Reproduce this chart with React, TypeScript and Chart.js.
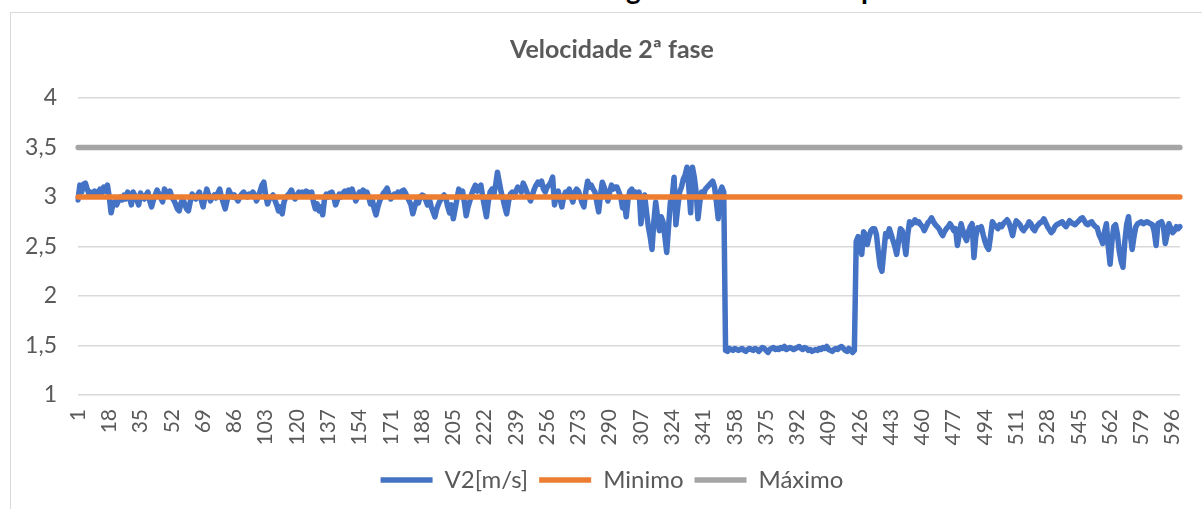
import React, { useEffect, useRef } from "react";
import { Chart, registerables } from "chart.js";

Chart.register(...registerables);

const FONT = "Lato, 'Noto Sans', sans-serif";
const TEXT_COLOR = "#595959";

const chartTitle = "Velocidade 2ª fase";
const outerTitle = "Monitoramento da frenagem durante o tempo";

const seriesNames = ["V2[m/s]", "Minimo", "Máximo"];
const seriesColors = ["#4472C4", "#ED7D31", "#A5A5A5"];

const MINIMO = 3;
const MAXIMO = 3.5;

const yTicks = [1, 1.5, 2, 2.5, 3, 3.5, 4];
const xTickLabels = [
  "1", "18", "35", "52", "69", "86", "103", "120", "137", "154", "171", "188",
  "205", "222", "239", "256", "273", "290", "307", "324", "341", "358", "375",
  "392", "409", "426", "443", "460", "477", "494", "511", "528", "545", "562",
  "579", "596",
];

const v2 = [
  2.97, 3.12, 3.05, 3.13, 3.14, 3.08, 3.03, 3.05, 3.04, 3.06,
  3.02, 3.05, 3.08, 3.04, 3.10, 3.06, 3.12, 3.00, 2.84, 2.93,
  2.95, 2.92, 2.96, 3.00, 2.97, 3.02, 2.98, 3.05, 3.00, 2.92,
  3.05, 3.01, 2.97, 2.92, 3.04, 3.00, 2.98, 3.02, 3.05, 2.96,
  2.90, 2.97, 3.02, 3.07, 3.03, 2.99, 2.95, 3.08, 3.05, 3.03,
  3.06, 3.00, 2.97, 2.93, 2.88, 2.86, 2.94, 2.98, 2.93, 2.88,
  2.86, 2.95, 3.03, 3.00, 2.98, 3.02, 3.05, 2.97, 2.90, 3.00,
  3.08, 3.02, 2.96, 3.00, 3.02, 2.99, 3.04, 3.08, 3.00, 2.94,
  2.88, 2.96, 3.07, 3.03, 3.00, 3.02, 2.99, 2.96, 3.00, 3.03,
  3.05, 3.02, 3.00, 3.03, 3.01, 3.05, 3.02, 2.96, 3.00, 3.06,
  3.12, 3.15, 3.02, 2.93, 2.98, 3.00, 3.02, 2.97, 2.92, 2.86,
  2.90, 2.83, 2.95, 3.00, 3.02, 3.04, 3.07, 3.02, 2.98, 3.01,
  3.05, 3.03, 3.05, 3.04, 3.06, 3.05, 3.03, 3.05, 2.95, 2.88,
  2.93, 2.86, 2.90, 2.82, 2.98, 3.03, 3.00, 3.04, 3.05, 3.00,
  2.92, 2.97, 3.03, 3.00, 3.04, 3.06, 3.03, 3.07, 3.05, 3.08,
  3.02, 2.96, 3.00, 3.05, 3.04, 3.07, 3.02, 3.05, 3.00, 2.93,
  2.97, 2.88, 2.82, 2.90, 2.96, 3.00, 3.04, 3.06, 3.09, 3.03,
  2.98, 3.00, 3.03, 3.02, 3.05, 3.03, 3.06, 3.07, 3.04, 3.00,
  2.96, 2.92, 2.83, 2.90, 2.96, 2.94, 3.00, 3.02, 3.01, 2.97,
  2.92, 2.98, 2.90, 2.85, 2.80, 2.88, 2.93, 2.97, 3.00, 3.02,
  2.98, 2.90, 2.84, 2.92, 2.78, 2.88, 2.98, 3.08, 3.05, 3.06,
  2.95, 2.81, 2.90, 2.96, 3.03, 3.08, 3.12, 3.06, 3.10, 3.12,
  3.00, 2.90, 2.80, 2.95, 3.05, 3.08, 3.02, 3.12, 3.25, 3.15,
  3.05, 2.98, 2.90, 2.83, 2.95, 3.03, 3.05, 3.00, 3.06, 3.10,
  3.08, 3.05, 3.14, 3.10, 3.05, 3.00, 2.96, 3.02, 3.08, 3.12,
  3.15, 3.13, 3.16, 3.08, 3.05, 3.10, 3.12, 3.15, 3.20, 2.92,
  3.02, 3.06, 2.98, 2.90, 3.00, 3.05, 3.04, 3.08, 3.00, 2.95,
  3.05, 3.08, 3.06, 3.00, 2.94, 2.90, 3.05, 3.16, 3.10, 3.12,
  3.08, 3.05, 2.95, 2.85, 3.02, 3.15, 3.10, 3.04, 2.96, 3.05,
  3.12, 3.08, 3.10, 3.10, 3.05, 3.00, 2.89, 2.95, 2.80, 2.98,
  3.06, 3.08, 3.03, 3.05, 3.00, 3.05, 2.73, 2.95, 3.02, 2.85,
  2.70, 2.60, 2.47, 2.75, 2.95, 2.80, 2.66, 2.80, 2.75, 2.60,
  2.44, 2.70, 2.95, 3.00, 3.20, 2.72, 2.90, 3.05, 3.10, 3.18,
  3.22, 3.30, 3.10, 2.84, 3.30, 3.20, 3.05, 2.78, 2.95, 3.05,
  3.02, 3.08, 3.10, 3.12, 3.14, 3.16, 3.10, 2.95, 2.78, 3.05,
  3.10, 3.05, 1.45, 1.44, 1.47, 1.46, 1.45, 1.47, 1.46, 1.45,
  1.46, 1.47, 1.45, 1.44, 1.46, 1.47, 1.46, 1.45, 1.47, 1.46,
  1.44, 1.46, 1.48, 1.47, 1.45, 1.43, 1.46, 1.47, 1.48, 1.46,
  1.47, 1.46, 1.48, 1.47, 1.49, 1.46, 1.47, 1.48, 1.47, 1.46,
  1.47, 1.48, 1.49, 1.47, 1.46, 1.48, 1.47, 1.45, 1.46, 1.44,
  1.45, 1.46, 1.45, 1.47, 1.46, 1.48, 1.47, 1.49, 1.46, 1.45,
  1.44, 1.46, 1.47, 1.46, 1.48, 1.49, 1.47, 1.45, 1.44, 1.47,
  1.45, 1.43, 1.45, 2.55, 2.60, 2.50, 2.42, 2.65, 2.62, 2.52,
  2.60, 2.66, 2.68, 2.68, 2.62, 2.45, 2.30, 2.25, 2.45, 2.63,
  2.60, 2.68, 2.62, 2.56, 2.50, 2.42, 2.55, 2.68, 2.66, 2.55,
  2.42, 2.62, 2.75, 2.72, 2.74, 2.77, 2.74, 2.75, 2.72, 2.70,
  2.66, 2.70, 2.74, 2.76, 2.79, 2.75, 2.72, 2.70, 2.68, 2.64,
  2.61, 2.65, 2.68, 2.70, 2.73, 2.70, 2.66, 2.68, 2.51, 2.62,
  2.73, 2.66, 2.60, 2.56, 2.65, 2.70, 2.73, 2.39, 2.60, 2.69,
  2.68, 2.70, 2.62, 2.55, 2.50, 2.47, 2.60, 2.75, 2.72, 2.70,
  2.68, 2.72, 2.70, 2.73, 2.75, 2.77, 2.74, 2.68, 2.61, 2.70,
  2.76, 2.74, 2.72, 2.68, 2.66, 2.69, 2.71, 2.75, 2.73, 2.68,
  2.66, 2.70, 2.72, 2.74, 2.75, 2.78, 2.74, 2.70, 2.67, 2.64,
  2.66, 2.70, 2.72, 2.73, 2.74, 2.75, 2.72, 2.70, 2.73, 2.76,
  2.74, 2.73, 2.72, 2.74, 2.76, 2.78, 2.79, 2.76, 2.73, 2.72,
  2.74, 2.75, 2.72, 2.70, 2.69, 2.62, 2.58, 2.53, 2.65, 2.73,
  2.50, 2.32, 2.55, 2.70, 2.72, 2.62, 2.45, 2.35, 2.29, 2.55,
  2.72, 2.80, 2.62, 2.47, 2.60, 2.70, 2.73, 2.74, 2.75, 2.73,
  2.74, 2.75, 2.74, 2.73, 2.72, 2.65, 2.51, 2.73, 2.74, 2.75,
  2.70, 2.53, 2.62, 2.73, 2.68, 2.64, 2.66, 2.70, 2.68, 2.70,
];

const categories = v2.map((_, i) => String(i + 1));

export default function App() {
  const canvasRef = useRef<HTMLCanvasElement | null>(null);

  useEffect(() => {
    const canvas = canvasRef.current;
    if (!canvas) return;
    const lineStyle = {
      borderWidth: 5.5,
      pointRadius: 0,
      tension: 0,
      borderCapStyle: "round" as const,
      borderJoinStyle: "round" as const,
    };
    const chart = new Chart(canvas, {
      type: "line",
      data: {
        labels: categories,
        datasets: [
          {
            label: seriesNames[0],
            data: v2,
            borderColor: seriesColors[0],
            backgroundColor: seriesColors[0],
            ...lineStyle,
            order: 2,
          },
          {
            label: seriesNames[1],
            data: categories.map(() => MINIMO),
            borderColor: seriesColors[1],
            backgroundColor: seriesColors[1],
            ...lineStyle,
            order: 1,
          },
          {
            label: seriesNames[2],
            data: categories.map(() => MAXIMO),
            borderColor: seriesColors[2],
            backgroundColor: seriesColors[2],
            ...lineStyle,
            order: 0,
          },
        ],
      },
      options: {
        animation: false,
        responsive: false,
        maintainAspectRatio: false,
        events: [],
        layout: { padding: { left: 0, right: 0, top: 0, bottom: 8 } },
        plugins: {
          title: {
            display: true,
            text: chartTitle,
            color: TEXT_COLOR,
            font: { family: FONT, size: 25, weight: "bold" },
            padding: { top: 22, bottom: 33 },
          },
          legend: {
            position: "bottom",
            labels: {
              usePointStyle: true,
              pointStyle: "line",
              pointStyleWidth: 52,
              color: TEXT_COLOR,
              font: { family: FONT, size: 24 },
              padding: 11,
              sort: (a: any, b: any) => a.datasetIndex - b.datasetIndex,
            },
          },
          tooltip: { enabled: false },
        },
        scales: {
          x: {
            type: "category",
            offset: false,
            grid: { display: false },
            border: { display: false },
            afterFit: (axis: any) => {
              axis.height = 62;
            },
            ticks: {
              autoSkip: false,
              minRotation: 90,
              maxRotation: 90,
              color: TEXT_COLOR,
              font: { family: FONT, size: 21 },
              padding: 6,
              callback: (_v: any, i: number) =>
                xTickLabels.includes(categories[i]) ? categories[i] : null,
            },
          },
          y: {
            min: yTicks[0],
            max: yTicks[yTicks.length - 1],
            grid: { color: "#d9d9d9", lineWidth: 1.5, drawTicks: false },
            border: { display: false },
            afterFit: (axis: any) => {
              axis.width = 67;
            },
            afterBuildTicks: (axis: any) => {
              axis.ticks = yTicks.map((v) => ({ value: v }));
            },
            ticks: {
              color: TEXT_COLOR,
              font: { family: FONT, size: 23 },
              padding: 21,
              callback: (v: any) => String(v).replace(".", ","),
            },
          },
          yRight: {
            position: "right",
            display: true,
            grid: { display: false },
            border: { display: false },
            ticks: { display: false },
            afterFit: (axis: any) => {
              axis.width = 33;
            },
          },
        },
      },
    });
    return () => chart.destroy();
  }, []);

  return (
    <div
      style={{
        position: "fixed",
        left: 0,
        top: 0,
        width: 1202,
        height: 509,
        overflow: "hidden",
        background: "#ffffff",
      }}
    >
      <div
        style={{
          position: "absolute",
          left: 6,
          width: 1202,
          top: -27,
          textAlign: "center",
          fontFamily: FONT,
          fontWeight: "bold",
          fontSize: 28,
          lineHeight: "30px",
          color: "#000",
          whiteSpace: "nowrap",
        }}
      >
        {outerTitle}
      </div>
      <div
        style={{
          position: "absolute",
          left: 10,
          top: 12,
          width: 1210,
          height: 505,
          border: "1.5px solid #d9d9d9",
          boxSizing: "border-box",
        }}
      />
      <canvas
        ref={canvasRef}
        width={1202}
        height={497}
        style={{ position: "absolute", left: 11, top: 13, width: 1202, height: 497 }}
      />
    </div>
  );
}
